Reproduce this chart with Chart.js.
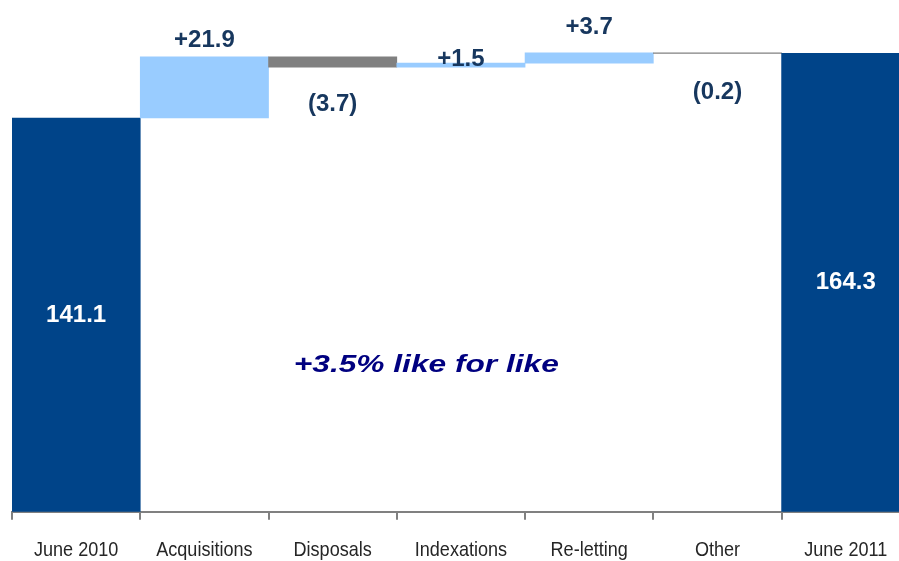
<!DOCTYPE html>
<html>
<head>
<meta charset="utf-8">
<script src="https://cdn.jsdelivr.net/npm/chart.js@4.4.1/dist/chart.umd.min.js"></script>
<style>
    html, body { margin: 0; padding: 0; background: #fff; overflow: hidden; }
    #wrap { width: 912px; height: 581px; position: relative; }
</style>
</head>
<body>
<div id="wrap"><canvas id="rentChart"></canvas></div>
<script>
// Rental income bridge, June 2010 -> June 2011

const categories = ['June 2010', 'Acquisitions', 'Disposals', 'Indexations', 'Re-letting', 'Other', 'June 2011'];
const changes = [141.1, 21.9, -3.7, 1.5, 3.7, -0.2, 164.3];
const isTotal = [true, false, false, false, false, false, true];
const valueLabels = ['141.1', '+21.9', '(3.7)', '+1.5', '+3.7', '(0.2)', '164.3'];
const noteText = '+3.5% like for like';

// floating ranges for the waterfall
let running = 0;
const ranges = changes.map((v, i) => {
    if (isTotal[i]) {
        running = v;
        return [0, v];
    }
    const start = running;
    running = +(running + v).toFixed(1);
    return [start, running];
});

const colors = changes.map((v, i) => isTotal[i] ? '#004489' : (v >= 0 ? '#99ccff' : '#808080'));

// where each value label sits relative to its bar (px from bar edge to text centre)
const labelPlace = ['inside', 'above', 'below', 'above', 'above', 'below', 'inside'];
const labelGap = [0, 17, 37, 4, 25, 39, 0];

const labelPlugin = {
    id: 'waterfallLabels',
    afterDatasetsDraw(chart) {
        const c = chart.ctx;
        const meta = chart.getDatasetMeta(0);
        c.save();
        c.textAlign = 'center';
        c.textBaseline = 'middle';
        c.font = 'bold 24px "Liberation Sans", Arial, sans-serif';
        meta.data.forEach((bar, i) => {
            const top = Math.min(bar.y, bar.base);
            const bottom = Math.max(bar.y, bar.base);
            let y;
            if (labelPlace[i] === 'inside') {
                c.fillStyle = '#ffffff';
                y = (top + bottom) / 2;
            } else if (labelPlace[i] === 'above') {
                c.fillStyle = '#17375e';
                y = top - labelGap[i];
            } else {
                c.fillStyle = '#17375e';
                y = bottom + labelGap[i];
            }
            c.fillText(valueLabels[i], bar.x, y);
        });

        // category names, condensed like the original narrow font
        const xs = chart.scales.x;
        c.font = '21px "Liberation Sans", Arial, sans-serif';
        c.fillStyle = '#262626';
        categories.forEach((name, i) => {
            c.save();
            c.translate(xs.getPixelForValue(i), xs.top);
            c.scale(0.86, 1);
            c.fillText(name, 0, 38);
            c.restore();
        });

        // like for like note, stretched like the original
        const x = xs.getPixelForValue(2.73);
        const yy = chart.scales.y.getPixelForValue(52.5);
        c.translate(x, yy);
        c.scale(1.32, 1);
        c.fillStyle = '#000080';
        c.font = 'italic bold 24px "Liberation Sans", Arial, sans-serif';
        c.fillText(noteText, 0, 0);
        c.restore();
    }
};

const ctx = document.getElementById('rentChart').getContext('2d');
const rentChart = new Chart(ctx, {
    type: 'bar',
    data: {
        labels: categories,
        datasets: [{
            data: ranges,
            backgroundColor: colors,
            borderWidth: 0,
            barPercentage: 1,
            categoryPercentage: 1
        }]
    },
    options: {
        responsive: true,
        maintainAspectRatio: false,
        animation: false,
        layout: {
            padding: { left: 12, right: 0, top: 0, bottom: 0 }
        },
        scales: {
            x: {
                grid: {
                    display: true,
                    drawOnChartArea: false,
                    drawTicks: true,
                    tickLength: 8,
                    color: '#808080',
                    lineWidth: 2
                },
                border: { display: true, color: '#808080', width: 2 },
                ticks: {
                    color: 'rgba(0,0,0,0)',
                    padding: 18,
                    maxRotation: 0,
                    font: { family: '"Liberation Sans", Arial, sans-serif', size: 21 }
                }
            },
            y: {
                display: false,
                min: 0,
                max: 183.4
            }
        },
        plugins: {
            legend: { display: false },
            tooltip: { enabled: false }
        }
    },
    plugins: [labelPlugin]
});
</script>
</body>
</html>
